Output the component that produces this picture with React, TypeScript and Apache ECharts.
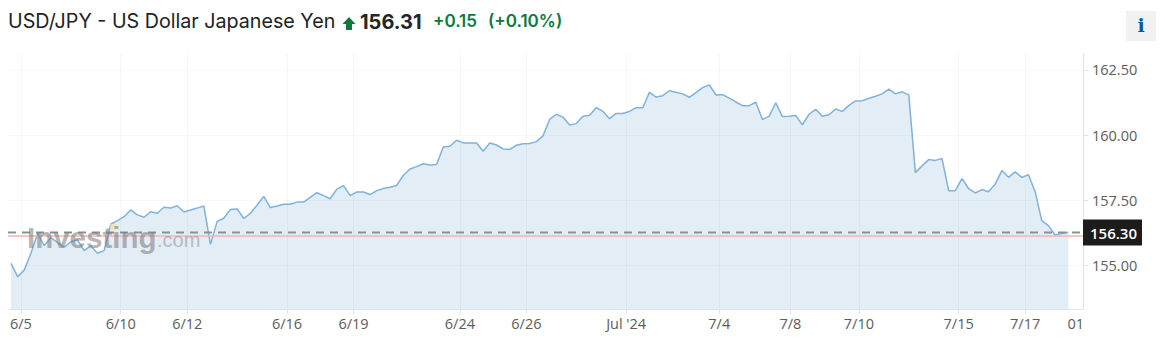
import React, { useEffect, useRef } from "react";
import * as echarts from "echarts";

const prices = [
  155.08, 154.57, 154.83, 155.47, 156.23, 155.76, 156.07, 155.88, 155.70, 155.91,
  155.98, 155.57, 155.75, 155.47, 155.57, 156.58, 156.72, 156.87, 157.13, 156.94,
  156.85, 157.06, 157.00, 157.23, 157.20, 157.29, 157.05, 157.13, 157.20, 157.28,
  155.81, 156.69, 156.81, 157.15, 157.17, 156.80, 157.00, 157.31, 157.65, 157.22,
  157.28, 157.35, 157.35, 157.43, 157.43, 157.61, 157.79, 157.68, 157.56, 157.93,
  158.06, 157.68, 157.82, 157.82, 157.72, 157.87, 157.95, 158.00, 158.07, 158.46,
  158.70, 158.79, 158.90, 158.85, 158.87, 159.54, 159.57, 159.80, 159.70, 159.70,
  159.70, 159.38, 159.70, 159.62, 159.47, 159.45, 159.61, 159.67, 159.68, 159.75,
  159.97, 160.60, 160.80, 160.69, 160.39, 160.44, 160.72, 160.76, 161.05, 160.91,
  160.63, 160.83, 160.83, 160.91, 161.05, 161.05, 161.64, 161.46, 161.51, 161.70,
  161.64, 161.58, 161.45, 161.63, 161.82, 161.92, 161.54, 161.55, 161.42, 161.27,
  161.13, 161.13, 161.26, 160.60, 160.72, 161.24, 160.71, 160.72, 160.75, 160.39,
  160.80, 160.99, 160.72, 160.78, 161.00, 160.91, 161.14, 161.31, 161.32, 161.41,
  161.49, 161.58, 161.76, 161.58, 161.66, 161.54, 158.56, 158.82, 159.06, 159.03,
  159.10, 157.87, 157.87, 158.33, 157.95, 157.78, 157.91, 157.83, 158.12, 158.64,
  158.38, 158.59, 158.38, 158.48, 157.83, 156.72, 156.53, 156.17, 156.23, 156.27,
];
const xTickValues = [1.5, 16.5, 26.5, 41.5, 51.5, 67.5, 77.5, 92.5, 106.5, 117.2, 127.5, 142.5, 152.5];
const xTickLabels = ["6/5", "6/10", "6/12", "6/16", "6/19", "6/24", "6/26", "Jul '24", "7/4", "7/8", "7/10", "7/15", "7/17"];
const extraLabelValue = 160.1;
const extraLabel = "01";
const yTicks = [155, 157.5, 160, 162.5];
const closeLine = 156.26;
const closeLabel = "156.30";
const prevLine = 156.14;
const heading = "USD/JPY - US Dollar Japanese Yen";
const lastPrice = "156.31";
const change = "+0.15";
const changePct = "(+0.10%)";

const GREEN = "#0a7a3e";
const FONT = "'Open Sans', sans-serif";
const X_MIN = -0.45;
const X_MAX = 161.2;

export default function App() {
  const ref = useRef<HTMLDivElement>(null);
  useEffect(() => {
    const chart = echarts.init(ref.current!, undefined, { renderer: "svg" });
    const labelMap = new Map<number, string>(xTickValues.map((v, i) => [v, xTickLabels[i]]));
    labelMap.set(extraLabelValue, extraLabel);
    chart.setOption({
      animation: false,
      grid: { left: 8, right: 82, top: 54, bottom: 44, containLabel: false },
      xAxis: {
        type: "value",
        min: X_MIN,
        max: X_MAX,
        axisLine: { show: true, onZero: false, lineStyle: { color: "#dfe3ec", width: 1 } },
        axisTick: { show: true, length: 5, lineStyle: { color: "#dfe3ec" }, customValues: xTickValues },
        axisLabel: {
          color: "#5c5c5c",
          fontFamily: FONT,
          fontSize: 14.5,
          margin: 7,
          showMinLabel: true,
          showMaxLabel: true,
          customValues: [...xTickValues, extraLabelValue],
          formatter: (v: number) => labelMap.get(v) ?? "",
        },
        splitLine: { show: false },
      },
      yAxis: {
        type: "value",
        position: "right",
        min: 153.33,
        max: 163.11,
        interval: 2.5,
        axisLine: { show: true, onZero: false, lineStyle: { color: "#dfe3ec" } },
        axisTick: { show: true, length: 5, lineStyle: { color: "#dfe3ec" }, customValues: yTicks },
        axisLabel: {
          color: "#5c5c5c",
          fontFamily: FONT,
          fontSize: 14.5,
          margin: 9,
          customValues: yTicks,
          formatter: (v: number) => v.toFixed(2),
        },
        splitLine: { show: false },
      },
      series: [
        {
          type: "line",
          data: prices.map((p, i) => [i, p]),
          symbol: "none",
          silent: true,
          lineStyle: { color: "#7fb2dc", width: 1.5 },
          areaStyle: { color: "#e3edf5", opacity: 1, origin: "start" },
          markLine: {
            silent: true,
            symbol: "none",
            animation: false,
            data: [
              ...xTickValues.map((v) => ({ xAxis: v, lineStyle: { color: "#8aa0c0", opacity: 0.09, width: 1, type: "solid" }, label: { show: false } })),
              ...yTicks.map((v) => ({ yAxis: v, lineStyle: { color: "#8aa0c0", opacity: 0.07, width: 1, type: "solid" }, label: { show: false } })),
              { yAxis: prevLine, lineStyle: { color: "#f4b4b0", width: 1.5, type: "solid" }, label: { show: false } },
            ],
          },
        },
        {
          type: "line",
          data: [[X_MIN, closeLine], [X_MAX, closeLine]],
          symbol: "none",
          silent: true,
          clip: false,
          lineStyle: { color: "#8b9095", width: 2, type: [8, 6] },
          endLabel: {
            show: true,
            distance: 0,
            formatter: closeLabel,
            color: "#fff",
            fontFamily: FONT,
            fontSize: 15,
            fontWeight: 600,
            lineHeight: 14,
            backgroundColor: "#1c1c1c",
            padding: [5, 5, 7, 7],
          },
        },
      ],
      graphic: [
        { type: "text", x: 8, y: 11, style: { text: heading, font: "19.7px Inter, sans-serif", fill: "#222" } },
        { type: "polygon", shape: { points: [[349, 17], [355.5, 24], [352, 24], [352, 30], [346, 30], [346, 24], [342.5, 24]] }, style: { fill: GREEN } },
        { type: "text", x: 360, y: 12, style: { text: lastPrice, font: "700 20px Inter, sans-serif", fill: "#232526" } },
        { type: "text", x: 433, y: 12, style: { text: change, font: "600 17px Inter, sans-serif", fill: GREEN } },
        { type: "text", x: 488, y: 12, style: { text: changePct, font: "600 17px Inter, sans-serif", fill: GREEN } },
        { type: "rect", shape: { x: 1126, y: 11, width: 30, height: 30 }, style: { fill: "#f1f1f1" } },
        { type: "text", x: 1141, y: 15, style: { text: "i", font: "700 19px 'DejaVu Serif', serif", fill: "#0c56a0", align: "center" } },
        { type: "rect", z: 49, shape: { x: 110, y: 224, width: 7, height: 6 }, style: { fill: "rgba(240,225,170,0.6)" } },
        { type: "text", x: 27, y: 222, z: 50, style: { text: "Investing", font: "700 29.5px 'Liberation Sans', sans-serif", fill: "rgba(120,120,120,0.55)" } },
        { type: "text", x: 157, y: 230, z: 50, style: { text: ".com", font: "400 20px 'Liberation Sans', sans-serif", fill: "rgba(150,150,150,0.6)" } },
      ],
    });
    return () => chart.dispose();
  }, []);
  return <div ref={ref} style={{ position: "absolute", left: 0, top: 0, width: 1165, height: 353 }} />;
}
